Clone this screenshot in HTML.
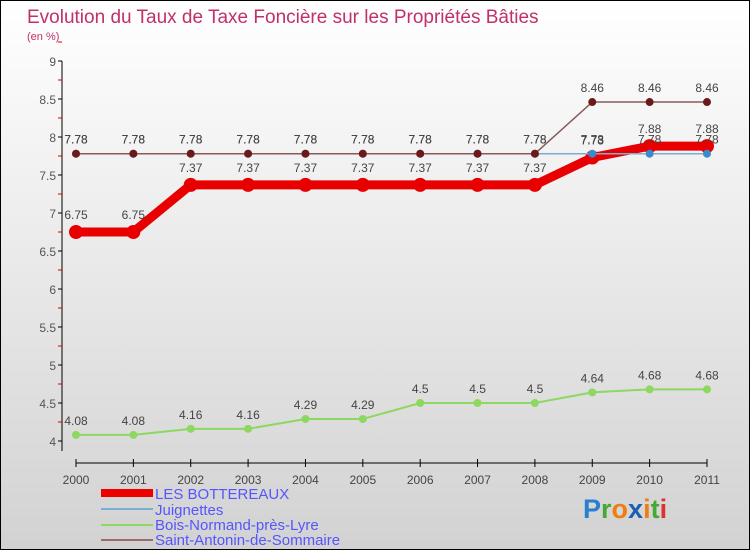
<!DOCTYPE html>
<html><head><meta charset="utf-8"><style>
body{margin:0}
#c{width:748px;height:548px;border:1px solid #000;background:linear-gradient(#ffffff,#d2d2d2);position:relative;font-family:"Liberation Sans",sans-serif}
</style></head><body>
<div id="c">
<svg id="s" width="748" height="548" style="position:absolute;left:0;top:0">
<text x="26" y="22" font-size="19" fill="#c0306a">Evolution du Taux de Taxe Foncière sur les Propriétés Bâties</text>
<text x="26" y="39" font-size="11" fill="#c0306a">(en %)</text>
<g id="axes"></g><g id="series"></g>
<g font-size="15" fill="#5555ff">
<rect x="100" y="488" width="52" height="8" fill="#e00"/><text x="154" y="498">LES BOTTEREAUX</text>
<rect x="100" y="507" width="52" height="2" fill="#7aaed3"/><text x="154" y="514">Juignettes</text>
<rect x="100" y="523" width="52" height="2" fill="#8cd860"/><text x="154" y="529">Bois-Normand-près-Lyre</text>
<rect x="100" y="538" width="52" height="2" fill="#9a6b6b"/><text x="154" y="544">Saint-Antonin-de-Sommaire</text>
</g>
<text x="582" y="517" font-size="27" font-weight="bold"><tspan fill="#2a7fd0">P</tspan><tspan fill="#44aa33">r</tspan><tspan fill="#f07d10">o</tspan><tspan fill="#1a5fb0">x</tspan><tspan fill="#f07d10">i</tspan><tspan fill="#44aa33">t</tspan><tspan fill="#e03030">i</tspan></text>
</svg></div>
<script>
const years=[2000,2001,2002,2003,2004,2005,2006,2007,2008,2009,2010,2011];
const yTicks=[4,4.5,5,5.5,6,6.5,7,7.5,8,8.5,9];
const bottereaux=[6.75,6.75,7.37,7.37,7.37,7.37,7.37,7.37,7.37,7.73,7.88,7.88];
const juignettes=[7.78,7.78,7.78,7.78,7.78,7.78,7.78,7.78,7.78,7.78,7.78,7.78];
const boisNormand=[4.08,4.08,4.16,4.16,4.29,4.29,4.5,4.5,4.5,4.64,4.68,4.68];
const saintAntonin=[7.78,7.78,7.78,7.78,7.78,7.78,7.78,7.78,7.78,8.46,8.46,8.46];
const NS="http://www.w3.org/2000/svg";
const X=i=>75+i*(631/11), Y=v=>440-(v-4)*76;
function mk(t,a,p){const e=document.createElementNS(NS,t);for(const k in a)e.setAttribute(k,a[k]);p.appendChild(e);return e;}
const ax=document.getElementById('axes');
let l=mk('line',{x1:61,y1:Y(9),x2:61,y2:Y(4)+10,stroke:'#000'},ax);

yTicks.forEach(v=>{mk('line',{x1:57,x2:61,y1:Y(v),y2:Y(v),stroke:'#000'},ax);
mk('line',{x1:57,x2:61,y1:Y(v+0.25),y2:Y(v+0.25),stroke:'#d00'},ax);
const t=mk('text',{x:55,y:Y(v)+5,'text-anchor':'end','font-size':12,fill:'#555'},ax);t.textContent=v;
});
l=mk('line',{x1:X(0),x2:X(11),y1:462,y2:462,stroke:'#000'},ax);

years.forEach((y,i)=>{mk('line',{x1:X(i),x2:X(i),y1:458,y2:466,stroke:'#000'},ax);
const t=mk('text',{x:X(i),y:483,'text-anchor':'middle','font-size':12,fill:'#444'},ax);t.textContent=y;
});
const sg=document.getElementById('series');
function draw(name,data,color,w,r,dot,lbl){
const g=mk('g',{},sg);
mk('polyline',{points:data.map((v,i)=>X(i)+','+Y(v)).join(' '),fill:'none',stroke:color,'stroke-width':w,'stroke-linejoin':'round'},g);
data.forEach((v,i)=>{const c=mk('circle',{cx:X(i),cy:Y(v),r:r,fill:dot},g);

if(lbl){const t=mk('text',{x:X(i),y:Y(v)-(r+6),'text-anchor':'middle','font-size':12,fill:'#444'},g);t.textContent=v;
}});}
draw('bois-normand-series',boisNormand,'#8cd860',2,4,'#8cd860',true);
draw('bottereaux-series',bottereaux,'#e80000',9,7,'#e80000',true);
draw('juignettes-series',juignettes,'#7aaed3',1.5,4,'#3a8ad0',true);
draw('saint-antonin-series',saintAntonin,'#8a5a5a',1.5,4,'#6b1a1a',true);
</script></body></html>
